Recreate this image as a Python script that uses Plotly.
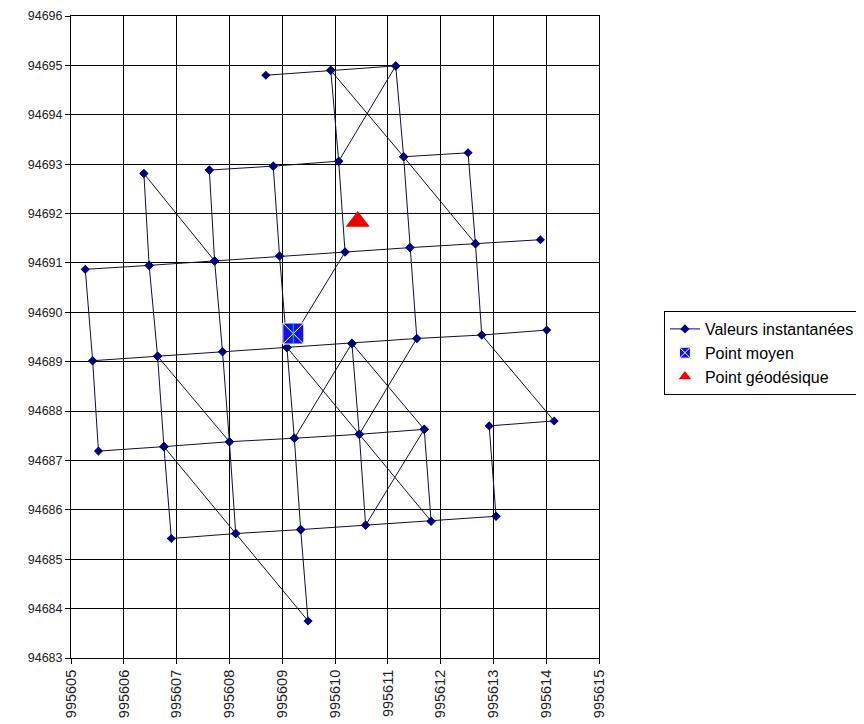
import plotly.graph_objects as go

# Instantaneous positions (id -> X, Y)
PT_ID = list(range(1, 41))
PT_X = [995608.69, 995609.92, 995611.15, 995607.62, 995608.83, 995610.07, 995611.30, 995612.52,
        995606.38, 995605.27, 995606.48, 995607.72, 995608.95, 995610.19, 995611.42, 995612.66,
        995613.89, 995605.41, 995606.64, 995607.87, 995609.09, 995610.32, 995611.55, 995612.78,
        995614.01, 995605.52, 995606.76, 995608.00, 995609.23, 995610.46, 995611.69, 995612.92,
        995614.15, 995606.90, 995608.12, 995609.35, 995610.58, 995611.82, 995613.05, 995609.49]
PT_Y = [94694.80, 94694.90, 94694.99, 94692.88, 94692.96, 94693.06, 94693.15, 94693.23,
        94692.81, 94690.87, 94690.95, 94691.04, 94691.14, 94691.22, 94691.31, 94691.39,
        94691.47, 94689.02, 94689.11, 94689.20, 94689.29, 94689.37, 94689.47, 94689.54,
        94689.64, 94687.19, 94687.28, 94687.38, 94687.45, 94687.53, 94687.63, 94687.70,
        94687.80, 94685.42, 94685.52, 94685.60, 94685.69, 94685.77, 94685.87, 94683.75]

# Order in which the points are joined (None = break between strokes)
PATH = [1, 2, 3, 7, 8, 16, 17, None,
        2, 6, 3, None,
        2, 7, 16, 24, 33, 32, 39, None,
        4, 5, 6, 14, 21, 13, 5, None,
        9, 11, 10, 18, 26, 27, 34, 35, 40, 36, None,
        9, 12, 4, None,
        11, 12, 13, 14, 15, 16, None,
        7, 15, 23, 30, None,
        18, 19, 20, 21, 22, 23, 24, 25, None,
        11, 19, 27, None,
        12, 20, 28, 19, None,
        21, 29, 22, 30, 21, None,
        22, 31, 38, 30, 37, 31, None,
        27, 28, 29, 30, 31, None,
        27, 35, 28, None,
        29, 36, 35, None,
        36, 37, 38, 39]

MEAN_X = [995609.21]
MEAN_Y = [94689.57]
GEO_X = [995610.43]
GEO_Y = [94691.84]

SERIES_NAMES = ["Valeurs instantanées", "Point moyen", "Point géodésique"]

X_RANGE = [995605, 995615]
Y_RANGE = [94683, 94696]

lookup = {i: (x, y) for i, x, y in zip(PT_ID, PT_X, PT_Y)}
px = [lookup[p][0] if p is not None else None for p in PATH]
py = [lookup[p][1] if p is not None else None for p in PATH]

FONT = "Liberation Sans, Arial, sans-serif"
NAVY = "#000080"

fig = go.Figure()
fig.add_trace(go.Scatter(x=px, y=py, mode="lines+markers", showlegend=False,
                         line=dict(color="#101030", width=1),
                         marker=dict(symbol="diamond", size=7, color=NAVY),
                         connectgaps=False, hoverinfo="skip"))
fig.add_trace(go.Scatter(x=MEAN_X, y=MEAN_Y, mode="markers", showlegend=False,
                         marker=dict(symbol="square-x", size=21, color="#1010F0",
                                     line=dict(color="white", width=1))))
fig.add_trace(go.Scatter(x=MEAN_X, y=MEAN_Y, mode="markers", showlegend=False,
                         marker=dict(symbol="line-ns-open", size=14,
                                     line=dict(color="white", width=1))))
fig.add_trace(go.Scatter(x=GEO_X, y=GEO_Y, mode="markers", showlegend=False,
                         marker=dict(symbol="triangle-up", size=21, color="#F00000")))

# legend entries
fig.add_trace(go.Scatter(x=[None], y=[None], mode="lines+markers", name=SERIES_NAMES[0],
                         line=dict(color=NAVY, width=1),
                         marker=dict(symbol="diamond", size=7, color=NAVY)))
fig.add_trace(go.Scatter(x=[None], y=[None], mode="markers", name=SERIES_NAMES[1],
                         marker=dict(symbol="square-x", size=11, color="#1010F0",
                                     line=dict(color="white", width=1))))
fig.add_trace(go.Scatter(x=[None], y=[None], mode="markers", name=SERIES_NAMES[2],
                         marker=dict(symbol="triangle-up", size=11, color="#F00000")))

axis_common = dict(showgrid=True, gridcolor="black", gridwidth=1, zeroline=False,
                   showline=True, linecolor="black", linewidth=1, mirror=True,
                   ticks="outside", ticklen=5, tickcolor="black", tickwidth=1,
                   dtick=1, tickformat="d")

fig.update_layout(
    width=856, height=716,
    margin=dict(l=63, r=265, t=8, b=66, autoexpand=False),
    paper_bgcolor="white", plot_bgcolor="white",
    font=dict(family=FONT, color="black"),
    xaxis=dict(range=X_RANGE, tick0=X_RANGE[0], tickangle=-90,
               tickfont=dict(family=FONT, size=14.5, color="#222222"), **axis_common),
    yaxis=dict(range=Y_RANGE, tick0=Y_RANGE[0],
               tickfont=dict(family=FONT, size=12.5, color="#222222"), **axis_common),
    legend=dict(x=1.123, y=0.5405, xanchor="left", yanchor="top",
                bgcolor="white", bordercolor="black", borderwidth=1,
                font=dict(family=FONT, size=16, color="black"),
                tracegroupgap=0),
    showlegend=True,
)

fig.write_html("out.html")
